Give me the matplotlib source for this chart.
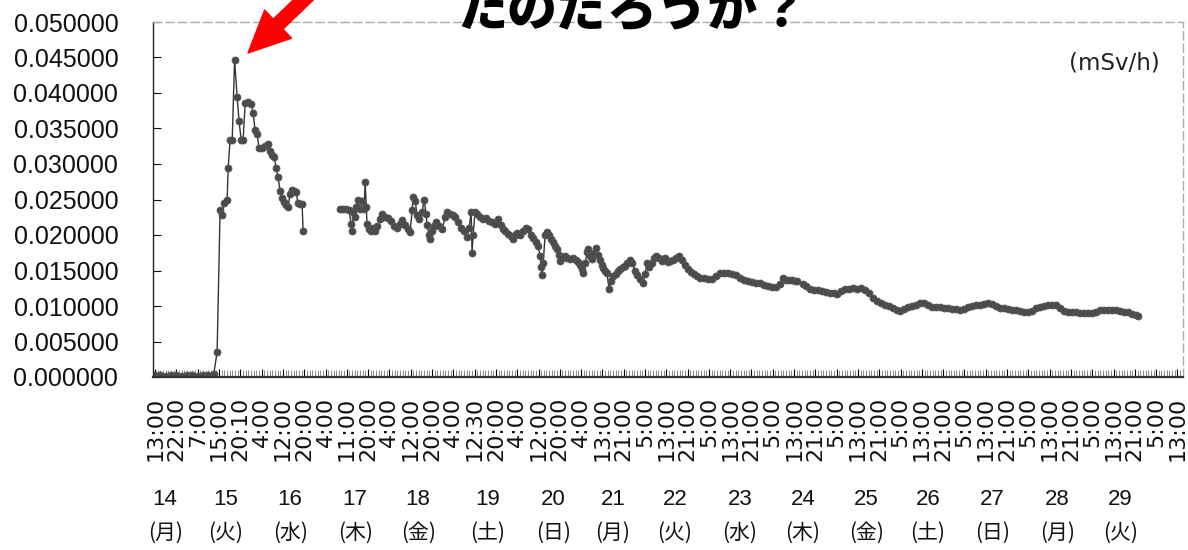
import numpy as np
import matplotlib
matplotlib.use("Agg")
import matplotlib.pyplot as plt
from matplotlib.ticker import MultipleLocator, FormatStrFormatter

# ---------------- data ----------------
# x = position on the category axis (1 unit = one tick-label interval)
seg1_x = [0.0, 0.25, 0.5, 0.75, 1.0, 1.25, 1.5, 1.75, 2.0, 2.25, 2.5, 2.75,
          2.91, 3.05, 3.15, 3.24, 3.38, 3.43, 3.52, 3.62, 3.73, 3.85, 3.94, 4.04,
          4.13, 4.23, 4.37, 4.51, 4.60, 4.69, 4.79, 4.88, 5.02, 5.16, 5.31, 5.40,
          5.49, 5.59, 5.68, 5.77, 5.87, 5.96, 6.06, 6.15, 6.24, 6.34, 6.43, 6.53,
          6.62, 6.71, 6.81, 6.90, 6.95]
seg1_y = [0.0003, 0.0003, 0.0002, 0.0003, 0.0003, 0.0002, 0.0003, 0.0003, 0.0002, 0.0003, 0.0003, 0.0004,
          0.0035, 0.0235, 0.0228, 0.0245, 0.0250, 0.0295, 0.0334, 0.0334, 0.0447, 0.0395, 0.0360, 0.0334,
          0.0334, 0.0386, 0.0388, 0.0385, 0.0372, 0.0348, 0.0342, 0.0322, 0.0322, 0.0326, 0.0328, 0.0318,
          0.0312, 0.0310, 0.0295, 0.0282, 0.0262, 0.0252, 0.0246, 0.0242, 0.0240, 0.0258, 0.0264, 0.0262,
          0.0260, 0.0245, 0.0243, 0.0243, 0.0205]

seg2_x = [8.69, 8.83, 8.97, 9.11, 9.20, 9.25, 9.30, 9.39, 9.44, 9.53, 9.62, 9.72, 9.81, 9.86, 9.91, 9.95,
          10.05, 10.14, 10.23, 10.33, 10.42, 10.56, 10.66, 10.80, 10.94, 11.08, 11.22, 11.36, 11.50, 11.60,
          11.74, 11.88, 11.97, 12.07, 12.11, 12.21, 12.30, 12.39, 12.54, 12.63, 12.72, 12.77, 12.86, 12.91,
          13.00, 13.10, 13.19, 13.33, 13.47, 13.62, 13.71, 13.85, 13.99, 14.08, 14.23, 14.37, 14.51, 14.65,
          14.74, 14.84, 14.88, 14.93, 15.02, 15.12, 15.26, 15.40, 15.54, 15.68, 15.82, 15.96, 16.10, 16.24,
          16.34, 16.43, 16.57, 16.71, 16.81, 16.90, 17.00, 17.14, 17.28, 17.42, 17.51, 17.65, 17.75, 17.89,
          17.98, 18.08, 18.12, 18.17, 18.22, 18.31, 18.40, 18.50, 18.59, 18.69, 18.78, 18.87, 18.97, 19.01,
          19.11, 19.25, 19.34, 19.48, 19.62, 19.77, 19.86, 19.95, 20.05, 20.09, 20.19, 20.28, 20.33, 20.42,
          20.52, 20.61, 20.70, 20.80, 20.89, 20.99, 21.03, 21.13, 21.22, 21.31, 21.41, 21.50, 21.64, 21.74,
          21.83, 21.97, 22.07, 22.16, 22.30, 22.39, 22.54, 22.63, 22.77, 22.91, 23.00, 23.10, 23.19, 23.33,
          23.43, 23.52, 23.66, 23.80, 23.94, 24.08, 24.18, 24.32, 24.46, 24.60, 24.74, 24.88, 25.02, 25.16,
          25.31, 25.45, 25.59, 25.77, 25.96, 26.15, 26.34, 26.53, 26.71, 26.90, 27.09, 27.28, 27.46, 27.65,
          27.84, 28.03, 28.22, 28.40, 28.59, 28.78, 28.97, 29.15, 29.34, 29.48, 29.62, 29.77, 29.91, 30.05,
          30.14]
seg2_y = [0.0236, 0.0236, 0.0236, 0.0235, 0.0215, 0.0205, 0.0232, 0.0225, 0.0240, 0.0250, 0.0236, 0.0248,
          0.0236, 0.0275, 0.0240, 0.0215, 0.0208, 0.0205, 0.0210, 0.0206, 0.0212, 0.0222, 0.0229, 0.0226,
          0.0224, 0.0220, 0.0212, 0.0210, 0.0215, 0.0221, 0.0214, 0.0208, 0.0204, 0.0235, 0.0254, 0.0248,
          0.0228, 0.0222, 0.0232, 0.0250, 0.0230, 0.0214, 0.0200, 0.0194, 0.0205, 0.0212, 0.0218, 0.0212,
          0.0208, 0.0225, 0.0232, 0.0230, 0.0228, 0.0225, 0.0218, 0.0210, 0.0205, 0.0197, 0.0210, 0.0232,
          0.0175, 0.0200, 0.0232, 0.0229, 0.0226, 0.0222, 0.0224, 0.0220, 0.0218, 0.0216, 0.0222, 0.0214,
          0.0208, 0.0205, 0.0201, 0.0198, 0.0195, 0.0200, 0.0203, 0.0200, 0.0205, 0.0210, 0.0208, 0.0200,
          0.0196, 0.0190, 0.0184, 0.0170, 0.0155, 0.0143, 0.0160, 0.0200, 0.0204, 0.0200, 0.0195, 0.0190,
          0.0185, 0.0180, 0.0172, 0.0163, 0.0168, 0.0170, 0.0168, 0.0166, 0.0168, 0.0165, 0.0162, 0.0158,
          0.0152, 0.0147, 0.0160, 0.0176, 0.0180, 0.0170, 0.0166, 0.0175, 0.0182, 0.0172, 0.0165, 0.0158,
          0.0154, 0.0150, 0.0146, 0.0124, 0.0135, 0.0142, 0.0145, 0.0150, 0.0152, 0.0155, 0.0157, 0.0160,
          0.0165, 0.0160, 0.0150, 0.0143, 0.0138, 0.0133, 0.0145, 0.0160, 0.0155, 0.0160, 0.0168, 0.0170,
          0.0168, 0.0164, 0.0167, 0.0162, 0.0163, 0.0165, 0.0168, 0.0171, 0.0165, 0.0158, 0.0152, 0.0148,
          0.0145, 0.0142, 0.0140, 0.0139, 0.0138, 0.0138, 0.0142, 0.0147, 0.0147, 0.0146, 0.0145, 0.0143,
          0.0140, 0.0137, 0.0135, 0.0134, 0.0133, 0.0132, 0.0130, 0.0128, 0.0127, 0.0127, 0.0131, 0.0139,
          0.0137, 0.0137, 0.0136, 0.0135, 0.0135]

seg3_x = [30.42, 30.56, 30.75, 30.94, 31.13, 31.31, 31.50, 31.69, 31.88, 32.02, 32.21, 32.39, 32.58,
          32.77, 32.96, 33.15, 33.33, 33.52, 33.71, 33.90, 34.08, 34.27, 34.46, 34.65, 34.84, 34.98,
          35.16, 35.35, 35.54, 35.73, 35.92, 36.10, 36.29, 36.48, 36.67, 36.85, 37.04, 37.23, 37.42,
          37.61, 37.79, 37.98, 38.17, 38.36, 38.54, 38.73, 38.92, 39.11, 39.30, 39.48, 39.67, 39.86,
          40.05, 40.23, 40.42, 40.61, 40.80, 40.99, 41.17, 41.36, 41.55, 41.74, 41.92, 42.11, 42.30,
          42.49, 42.68, 42.86, 43.05, 43.24, 43.43, 43.62, 43.80, 43.99, 44.18, 44.37, 44.55, 44.74,
          44.93, 45.12, 45.31, 45.49, 45.68, 45.87, 46.06, 46.15]
seg3_y = [0.0131, 0.0128, 0.0124, 0.0123, 0.0122, 0.0121, 0.0120, 0.0119, 0.0118, 0.0117, 0.0121, 0.0124,
          0.0124, 0.0125, 0.0124, 0.0125, 0.0123, 0.0118, 0.0111, 0.0107, 0.0104, 0.0102, 0.0100, 0.0097,
          0.0094, 0.0093, 0.0096, 0.0099, 0.0100, 0.0102, 0.0104, 0.0104, 0.0101, 0.0099, 0.0098, 0.0098,
          0.0097, 0.0097, 0.0096, 0.0096, 0.0095, 0.0096, 0.0098, 0.0100, 0.0101, 0.0102, 0.0103, 0.0104,
          0.0103, 0.0100, 0.0097, 0.0097, 0.0096, 0.0095, 0.0094, 0.0093, 0.0092, 0.0091, 0.0093, 0.0097,
          0.0099, 0.0100, 0.0101, 0.0102, 0.0101, 0.0097, 0.0093, 0.0091, 0.0091, 0.0091, 0.0090, 0.0090,
          0.0090, 0.0090, 0.0091, 0.0095, 0.0095, 0.0094, 0.0094, 0.0094, 0.0093, 0.0092, 0.0091, 0.0089,
          0.0087, 0.0086]

time_labels = ["13:00", "22:00", "7:00", "15:00", "20:10", "4:00", "12:00", "20:00",
               "4:00", "11:00", "20:00", "4:00", "12:00", "20:00", "4:00", "12:30",
               "20:00", "4:00", "12:00", "20:00", "4:00", "13:00", "21:00"] + \
              ["5:00", "13:00", "21:00"] * 8 + ["5:00", "13:00"]

days = ["14", "15", "16", "17", "18", "19", "20", "21", "22", "23", "24", "25", "26", "27", "28", "29"]
weekdays = ["月", "火", "水", "木", "金", "土", "日", "月", "火", "水", "木", "金", "土", "日", "月", "火"]
day_pos = [0.47, 3.29, 6.34, 9.39, 12.35, 15.63, 18.69, 21.50, 24.41, 27.46, 30.42, 33.38,
           36.29, 39.30, 42.35, 45.31]

title_text = "たのだろうか？"
unit_text = "(mSv/h)"

# ---------------- figure ----------------
W, H = 1188, 550
fig = plt.figure(figsize=(W / 100, H / 100), dpi=100)
ax = fig.add_axes([153 / W, 1 - 377 / H, (1183 - 153) / W, (377 - 22) / H])

line_kw = dict(color="#333333", lw=1.0, marker="o", markersize=5.0,
               markerfacecolor="#4a4a4a", markeredgecolor="#555555", markeredgewidth=0.6)
for sx, sy in [(seg1_x, seg1_y), (seg2_x, seg2_y), (seg3_x, seg3_y)]:
    ax.plot(sx, sy, **line_kw)

ax.set_xlim(-0.1, 48.26)
ax.set_ylim(0, 0.05)

# y axis
ax.yaxis.set_major_locator(MultipleLocator(0.005))
ax.yaxis.set_major_formatter(FormatStrFormatter("%.6f"))
ax.tick_params(axis="y", direction="in", length=6, width=0.8, pad=25,
               labelsize=18, colors="#111111")
for lab in ax.get_yticklabels():
    lab.set_fontfamily("Liberation Sans")

# x axis
ax.set_xticks(np.arange(len(time_labels)))
ax.set_xticklabels(time_labels, rotation=90, fontsize=16, family="DejaVu Sans", color="#111111")
ax.xaxis.set_minor_locator(MultipleLocator(0.125))
ax.tick_params(axis="x", which="major", direction="in", length=6, width=0.8, pad=14)
ax.tick_params(axis="x", which="minor", direction="in", length=5, width=0.6, color="#777777")

# spines
ax.spines["left"].set_color("#222222")
ax.spines["left"].set_linewidth(1.0)
ax.spines["bottom"].set_color("#333333")
ax.spines["bottom"].set_linewidth(1.6)
for s in ["top", "right"]:
    ax.spines[s].set_color("#aaaaaa")
    ax.spines[s].set_linewidth(1.0)
    ax.spines[s].set_linestyle((0, (6, 3)))

# day labels
trans = ax.get_xaxis_transform()
for p, d, w in zip(day_pos, days, weekdays):
    ax.text(p, -0.345, d, transform=trans, ha="center", va="center",
            fontsize=16, family="Liberation Sans", color="#111111", clip_on=False)
    ax.text(p, -0.44, "(" + w + ")", transform=trans, ha="center", va="center",
            fontsize=15, family=["Noto Sans CJK JP", "DejaVu Sans"], color="#111111", clip_on=False)

# unit label
fig.text(1114 / W, 1 - 63 / H, unit_text, ha="center", va="center", fontsize=16.5,
         family="DejaVu Sans", color="#222222")

# cropped title at top (cut off by the page edge, as in the source scan)
fig.text(632 / W, 1 - 11 / H, title_text, ha="center", va="center", fontsize=36,
         family=["Noto Sans CJK JP", "DejaVu Sans"], fontweight="black", color="black")

# red arrow pointing to the peak
ax.annotate("", xy=(248, H - 53), xytext=(322, H + 18),
            xycoords="figure pixels", textcoords="figure pixels",
            arrowprops=dict(arrowstyle="simple,head_length=1.5,head_width=1.4,tail_width=0.5",
                            mutation_scale=20, color="#ff0000", shrinkA=0, shrinkB=0),
            annotation_clip=False)

fig.savefig("out.png", dpi=100)
